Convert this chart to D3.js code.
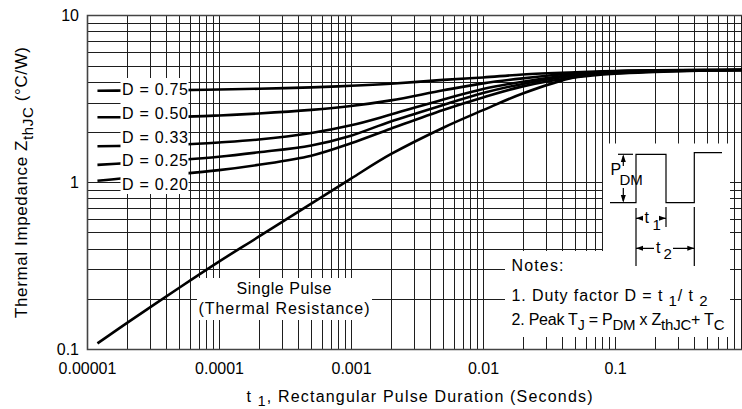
<!DOCTYPE html>
<html><head><meta charset="utf-8">
<script src="https://cdn.jsdelivr.net/npm/d3@7"></script>
<style>
html,body{margin:0;padding:0;background:#fff;}
svg{display:block;font-family:"Liberation Sans",Arial,Helvetica,sans-serif;}
</style></head><body>
<svg id="chart" width="742" height="409"></svg>
<script>
// ---- data ----
const pulseDurations = [1.2e-5, 2e-5, 5e-5, 1e-4, 2e-4, 5e-4, 1e-3, 2e-3, 5e-3, 1e-2, 2e-2, 5e-2, 0.1, 0.2, 0.5, 1];
const dutyLabels = ["D = 0.75", "D = 0.50", "D = 0.33", "D = 0.25", "D = 0.20"];
const zD075 = [3.53, 3.54, 3.56, 3.59, 3.63, 3.70, 3.78, 3.89, 4.10, 4.24, 4.42, 4.56, 4.64, 4.68, 4.70, 4.71];
const zD050 = [2.45, 2.45, 2.46, 2.51, 2.58, 2.71, 2.86, 3.09, 3.55, 3.91, 4.19, 4.49, 4.62, 4.67, 4.70, 4.71];
const zD033 = [1.64, 1.65, 1.68, 1.73, 1.80, 1.97, 2.19, 2.54, 3.13, 3.62, 4.00, 4.42, 4.57, 4.65, 4.69, 4.70];
const zD025 = [1.27, 1.30, 1.36, 1.42, 1.51, 1.66, 1.90, 2.31, 2.90, 3.42, 3.88, 4.36, 4.54, 4.64, 4.68, 4.70];
const zD020 = [1.02, 1.06, 1.12, 1.18, 1.27, 1.44, 1.71, 2.09, 2.71, 3.22, 3.75, 4.25, 4.47, 4.58, 4.67, 4.70];
const zSingle = [0.108, 0.143, 0.233, 0.334, 0.471, 0.744, 1.05, 1.47, 2.12, 2.70, 3.40, 4.26, 4.51, 4.62, 4.68, 4.70];
const xTickValues = [1e-5, 1e-4, 1e-3, 1e-2, 1e-1];
const xTickLabels = ["0.00001", "0.0001", "0.001", "0.01", "0.1"];
const yTickValues = [0.1, 1, 10];
const yTickLabels = ["0.1", "1", "10"];

const series = [zD075, zD050, zD033, zD025, zD020, zSingle];

// ---- layout ----
const W = 742, H = 409;
const pLeft = 87, pRight = 747, pTop = 15.3, pBottom = 349;
const svg = d3.select("#chart");
const x = d3.scaleLog().domain([1e-5, 1]).range([pLeft, pRight]);
const y = d3.scaleLog().domain([0.1, 10]).range([pBottom, pTop]);
const snap = v => Math.round(v) + 0.5;

// grid
const grid = svg.append("g").attr("stroke", "#1e1e1e").attr("stroke-width", 1).attr("shape-rendering", "crispEdges");
x.ticks().filter(v => v > 1e-5 && v < 0.95).forEach(v => {
  grid.append("line").attr("x1", snap(x(v))).attr("x2", snap(x(v))).attr("y1", pTop).attr("y2", pBottom);
});
y.ticks().filter(v => v > 0.1 && v < 10).forEach(v => {
  grid.append("line").attr("y1", snap(y(v))).attr("y2", snap(y(v))).attr("x1", pLeft).attr("x2", W);
});
// frame
svg.append("path").attr("d", `M${W},${snap(pTop)}H${snap(pLeft)}V${snap(pBottom)}H${W}`)
  .attr("fill", "none").attr("stroke", "#444").attr("stroke-width", 1.6);

// curves
const line = d3.line().x(d => x(d[0])).y(d => y(d[1])).curve(d3.curveCatmullRom.alpha(0.5));
const curves = svg.append("g").attr("fill", "none").attr("stroke", "#000").attr("stroke-width", 2.6).attr("stroke-linejoin", "round");
series.forEach(s => {
  curves.append("path").attr("d", line(pulseDurations.map((t, i) => [t, s[i]])));
});

// white label boxes
svg.append("rect").attr("x", 120.5).attr("y", 78).attr("width", 68).attr("height", 116).attr("fill", "#fff");
svg.append("rect").attr("x", 197).attr("y", 278).attr("width", 175).attr("height", 42).attr("fill", "#fff");
svg.append("path").attr("d", "M603,143.5H730V337H505V251H603Z").attr("fill", "#fff");

// D labels
const dl = svg.append("g").attr("font-size", 16).attr("fill", "#000");
dutyLabels.forEach((lab, i) => {
  dl.append("text").attr("x", 122).attr("y", 95 + i * 23.75).attr("textLength", 66).attr("lengthAdjust", "spacing").text(lab);
});

// single pulse label
const sp = svg.append("g").attr("font-size", 16).attr("text-anchor", "middle").attr("fill", "#000");
sp.append("text").attr("x", 284).attr("y", 294).attr("textLength", 95).attr("lengthAdjust", "spacing").text("Single Pulse");
sp.append("text").attr("x", 284).attr("y", 313.5).attr("textLength", 171).attr("lengthAdjust", "spacing").text("(Thermal Resistance)");

// bottom ticks inside notes box
const bt = svg.append("g").attr("stroke", "#1e1e1e").attr("shape-rendering", "crispEdges");
x.ticks().filter(v => v > 1e-5 && v < 0.95).forEach(v => {
  const px = x(v);
  if (px > 505 && px < 730) bt.append("line").attr("x1", snap(px)).attr("x2", snap(px)).attr("y1", 337).attr("y2", pBottom);
});

// notes
const nt = svg.append("g").attr("font-size", 16).attr("fill", "#000");
nt.append("text").attr("x", 511.5).attr("y", 270.7).attr("textLength", 52).attr("lengthAdjust", "spacing").text("Notes:");
const n1 = nt.append("text").attr("x", 511.5).attr("y", 300.7).attr("textLength", 196).attr("lengthAdjust", "spacing");
n1.append("tspan").text("1. Duty factor D =  t ");
n1.append("tspan").attr("dy", 5).attr("font-size", 15).text("1");
n1.append("tspan").attr("dy", -5).text("/ t ");
n1.append("tspan").attr("dy", 5).attr("font-size", 15).text("2");
const n2 = nt.append("text").attr("x", 511.5).attr("y", 325).attr("textLength", 213).attr("lengthAdjust", "spacing");
n2.append("tspan").text("2. Peak T");
n2.append("tspan").attr("dy", 5).attr("font-size", 14).text("J");
n2.append("tspan").attr("dy", -5).text(" = P");
n2.append("tspan").attr("dy", 5).attr("font-size", 15).text("DM");
n2.append("tspan").attr("dy", -5).text(" x Z");
n2.append("tspan").attr("dy", 5).attr("font-size", 15).text("thJC");
n2.append("tspan").attr("dy", -5).text("+ T");
n2.append("tspan").attr("dy", 5).attr("font-size", 15).text("C");

// inset pulse diagram
const ins = svg.append("g").attr("stroke", "#000").attr("stroke-width", 1.2).attr("fill", "none");
ins.append("path").attr("d", "M610,202.7H636V154.3H666V202.7H694.3V152.7H722");
ins.append("path").attr("d", "M618,154.3H633");
ins.append("path").attr("d", "M623.3,156V166 M623.3,188V201");
ins.append("path").attr("d", "M636,208V266 M666,207V227 M694.3,207V266");
ins.append("path").attr("d", "M636,218.3H642 M659,218.3H666 M636,248.3H654 M673,248.3H694.3");
const ah = svg.append("g").attr("fill", "#000");
const tri = (pts) => ah.append("path").attr("d", "M" + pts.join("L") + "Z");
tri([[623.3, 154.3], [620.8, 162], [625.8, 162]]);
tri([[623.3, 202.7], [620.8, 195], [625.8, 195]]);
tri([[636, 218.3], [643, 215.8], [643, 220.8]]);
tri([[666, 218.3], [659, 215.8], [659, 220.8]]);
tri([[636, 248.3], [643, 245.8], [643, 250.8]]);
tri([[694.3, 248.3], [687.3, 245.8], [687.3, 250.8]]);
const it = svg.append("g").attr("font-size", 16).attr("fill", "#000");
it.append("text").attr("x", 610.5).attr("y", 175).text("P");
it.append("text").attr("x", 619.5).attr("y", 184.5).attr("font-size", 15).text("DM");
it.append("text").attr("x", 644.5).attr("y", 223).text("t");
it.append("text").attr("x", 652.5).attr("y", 230).attr("font-size", 15).text("1");
it.append("text").attr("x", 656).attr("y", 253).text("t");
it.append("text").attr("x", 663.5).attr("y", 259).attr("font-size", 15).text("2");

// axes
const xAxis = d3.axisBottom(x).tickValues(xTickValues).tickFormat((d, i) => xTickLabels[i]).tickSize(0).tickPadding(14);
const gx = svg.append("g").attr("transform", `translate(0,${pBottom})`).call(xAxis);
gx.select(".domain").remove();
gx.selectAll("text").attr("font-size", 16).attr("fill", "#000");
gx.attr("font-family", null).attr("font-size", null);
const yAxis = d3.axisLeft(y).tickValues(yTickValues).tickFormat((d, i) => yTickLabels[i]).tickSize(0).tickPadding(8);
const gy = svg.append("g").attr("transform", `translate(${pLeft},0)`).call(yAxis);
gy.select(".domain").remove();
gy.selectAll("text").attr("font-size", 16).attr("fill", "#000");
gy.attr("font-family", null).attr("font-size", null);

// axis titles
const xt = svg.append("text").attr("x", 246.5).attr("y", 401.5).attr("font-size", 16).attr("fill", "#000")
  .attr("textLength", 346).attr("lengthAdjust", "spacing");
xt.append("tspan").text("t ");
xt.append("tspan").attr("dy", 4).attr("font-size", 14).text("1");
xt.append("tspan").attr("dy", -4).text(", Rectangular Pulse Duration (Seconds)");

const yt = svg.append("text").attr("transform", "translate(27,182.5) rotate(-90)").attr("text-anchor", "middle")
  .attr("font-size", 17).attr("fill", "#000").attr("textLength", 271).attr("lengthAdjust", "spacing");
yt.append("tspan").text("Thermal Impedance Z");
yt.append("tspan").attr("dy", 6).attr("font-size", 15).text("thJC");
yt.append("tspan").attr("dy", -6).text("  (°C/W)");
</script>
</body></html>
